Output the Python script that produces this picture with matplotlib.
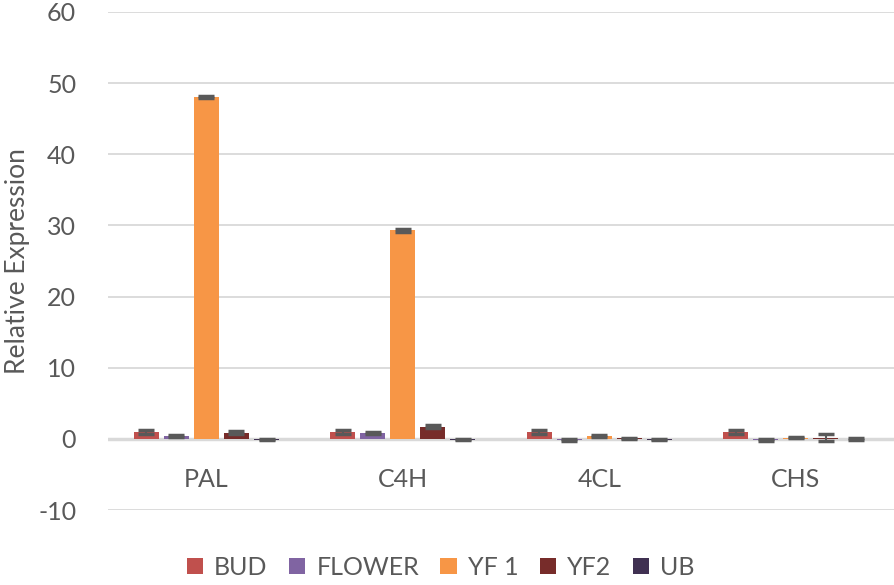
import numpy as np
import matplotlib
matplotlib.use("Agg")
import matplotlib.pyplot as plt

genes = ["PAL", "C4H", "4CL", "CHS"]
series = ["BUD", "FLOWER", "YF 1", "YF2", "UB"]
colors = ["#c0504d", "#8064a2", "#f79646", "#772c2a", "#403152"]

bud = [1.0, 1.0, 1.0, 1.0]
flower = [0.4, 0.8, -0.1, -0.1]
yf1 = [48.1, 29.3, 0.4, 0.2]
yf2 = [0.9, 1.7, 0.1, 0.2]
ub = [-0.1, -0.1, -0.1, 0.0]

bud_err = [0.25, 0.25, 0.25, 0.25]
flower_err = [0.15, 0.15, 0.15, 0.15]
yf1_err = [0.15, 0.15, 0.12, 0.1]
yf2_err = [0.2, 0.2, 0.1, 0.55]
ub_err = [0.1, 0.1, 0.1, 0.1]

values = [bud, flower, yf1, yf2, ub]
errors = [bud_err, flower_err, yf1_err, yf2_err, ub_err]

plt.rcParams['font.family'] = ['Lato', 'DejaVu Sans']
plt.rcParams['axes.unicode_minus'] = False

fig = plt.figure(figsize=(8.94, 5.85), dpi=100)
ax = fig.add_axes([0.121, 0.128, 0.879, 0.8515])

x = np.arange(len(genes))
width = 0.127
step = 0.153
for i, (name, vals, errs) in enumerate(zip(series, values, errors)):
    pos = x + (i - 2) * step
    ax.bar(pos, vals, width, color=colors[i], label=name, zorder=2)
    ax.errorbar(pos, vals, yerr=errs, fmt='none', ecolor='#595959',
                elinewidth=1.5, capsize=5.5, capthick=2.5, zorder=3)

ax.set_xlim(-0.5, 3.5)
ax.set_ylim(-10, 60)
ax.set_yticks(range(-10, 61, 10))
ax.set_xticks(x)
ax.set_xticklabels(genes)
ax.grid(axis='y', color='#d9d9d9', linewidth=1.3, zorder=0)
ax.axhline(0, color='#d9d9d9', linewidth=2.5, zorder=1)
for s in ax.spines.values():
    s.set_visible(False)
ax.tick_params(axis='both', length=0, labelsize=18, colors='#595959')
ax.tick_params(axis='y', pad=23)
ax.tick_params(axis='x', pad=-30)
ax.set_ylabel("Relative Expression", fontsize=19, color='#595959', labelpad=6)

leg = fig.legend(loc='lower center', ncol=5, frameon=False, fontsize=18,
                 bbox_to_anchor=(0.493, -0.028), handlelength=0.65, handleheight=0.65,
                 handletextpad=0.45, columnspacing=0.85)
for t in leg.get_texts():
    t.set_color('#595959')

fig.savefig("out.png", dpi=100)
